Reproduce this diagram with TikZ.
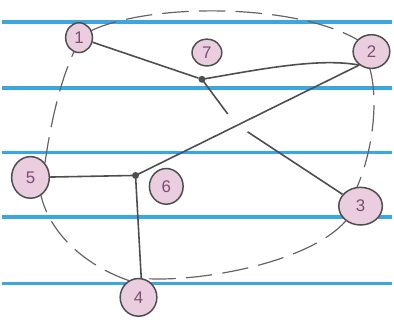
\documentclass[tikz,border=0pt]{standalone}
\usepackage{fontspec}
\setmainfont{Liberation Sans}
\usetikzlibrary{shapes.geometric}
\pgfdeclarelayer{paper}
\pgfdeclarelayer{behind}
\pgfsetlayers{paper,behind,main}
\definecolor{paperblue}{RGB}{58,166,226}
\definecolor{ink}{RGB}{78,78,78}
\definecolor{dashink}{RGB}{100,100,100}
\definecolor{blush}{RGB}{234,206,224}
\definecolor{plum}{RGB}{122,78,112}
\tikzset{
  rule/.style={paperblue,line width=3.5pt},
  vert/.style={ellipse,draw=ink,line width=1.5pt,fill=blush,inner sep=0pt,
    text=plum,font=\fontsize{17}{17}\selectfont},
  edge/.style={ink,line width=1.6pt},
  outline/.style={dashink,line width=1.2pt,dash pattern=on 26pt off 11pt,line cap=round},
  junction/.style={circle,fill=ink,inner sep=0pt,minimum size=7pt}
}
\begin{document}
\begin{tikzpicture}[x=1pt,y=-1pt]
% nodes
\node[vert,minimum width=27pt,minimum height=30pt] (n1) at (78,38) {1};
\node[vert,minimum width=37pt,minimum height=34pt] (n2) at (373,52) {2};
\node[vert,minimum width=44pt,minimum height=38pt] (n3) at (362,208) {3};
\node[vert,minimum width=37pt,minimum height=38pt] (n4) at (138,300) {4};
\node[vert,minimum width=38pt,minimum height=42pt] (n5) at (29,179) {5};
\node[vert,minimum width=34pt,minimum height=36pt] (n6) at (166,188) {6};
\node[vert,minimum width=30pt,minimum height=27pt] (n7) at (207,53) {7};
\node[junction] (j7) at (202,80) {};
\node[junction] (j6) at (135,177) {};
\coordinate (c7) at (228,115);
\coordinate (c3) at (248,133);
\begin{pgfonlayer}{paper}
\fill[white] (0,0) rectangle (394,324);
\foreach \yy in {22,89,154,219,286} \draw[rule] (0,\yy) -- (394,\yy);
\end{pgfonlayer}
\begin{pgfonlayer}{behind}
% dashed outline
\draw[outline] (n1.30) .. controls (150,3) and (295,3) .. (n2.140);
\draw[outline] (n2.265) .. controls (380,100) and (375,150) .. (n3.100);
\draw[outline] (n3.225) .. controls (310,265) and (200,285) .. (n4.75);
\draw[outline] (n4.120) .. controls (90,270) and (50,240) .. (n5.300);
\draw[outline] (n5.45) .. controls (50,120) and (60,80) .. (n1.250);
% connectors
\draw[edge] (n1) -- (j7);
\draw[edge] (j7.center) .. controls (260,70) and (320,58) .. (n2.228);
\draw[edge] (n2.228) -- (j6.center);
\draw[edge] (j7.center) -- (c7);
\draw[edge] (c3) -- (n3);
\draw[edge] (n5) -- (j6.center);
\draw[edge] (j6.center) -- (n4.82);
\end{pgfonlayer}
\useasboundingbox (0,0) rectangle (394,324);
\end{tikzpicture}
\end{document}
